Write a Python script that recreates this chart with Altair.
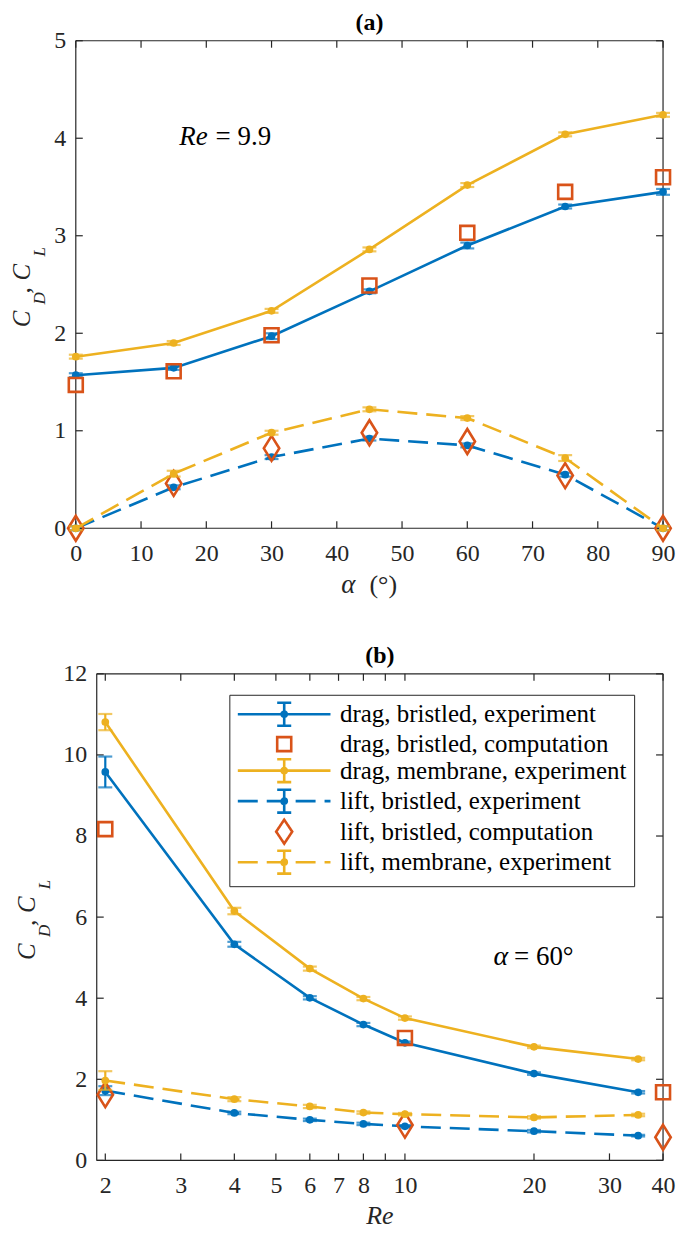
import altair as alt
import pandas as pd

# ---------------- colours / style ----------------
BLUE, ORANGE, YELLOW = "#0072BD", "#D95319", "#EDB120"
AXC = "#262626"
SERIF = "Liberation Serif, Times New Roman, serif"
DASH = [20, 9]

# ---------------- panel (a): Re = 9.9, sweep in alpha ----------------
alpha = [0, 15, 30, 45, 60, 75, 90]
a_drag_bristled_exp = [1.57, 1.645, 1.97, 2.43, 2.90, 3.30, 3.45]
a_drag_bristled_err = [0.02, 0.02, 0.03, 0.02, 0.03, 0.02, 0.03]
a_drag_bristled_comp = [1.47, 1.61, 1.98, 2.49, 3.03, 3.45, 3.60]
a_drag_membrane_exp = [1.76, 1.90, 2.23, 2.86, 3.52, 4.04, 4.24]
a_drag_membrane_err = [0.02, 0.02, 0.02, 0.02, 0.02, 0.02, 0.02]
a_lift_bristled_exp = [0.0, 0.42, 0.73, 0.92, 0.85, 0.55, 0.0]
a_lift_bristled_err = [0.02, 0.02, 0.02, 0.02, 0.02, 0.02, 0.02]
a_lift_bristled_comp = [0.0, 0.46, 0.82, 0.98, 0.89, 0.54, 0.0]
a_lift_membrane_exp = [0.0, 0.56, 0.98, 1.22, 1.13, 0.72, 0.0]
a_lift_membrane_err = [0.02, 0.03, 0.02, 0.02, 0.02, 0.03, 0.02]
a_xticks = [0, 10, 20, 30, 40, 50, 60, 70, 80, 90]
a_yticks = [0, 1, 2, 3, 4, 5]
a_annot = {"x": [20.2], "y": [3.93]}

# ---------------- panel (b): alpha = 60 deg, sweep in Re ----------------
re_exp = [2, 4, 6, 8, 10, 20, 35]
re_comp = [2, 10, 40]
b_drag_bristled_exp = [9.58, 5.33, 4.01, 3.35, 2.90, 2.14, 1.68]
b_drag_bristled_err = [0.38, 0.06, 0.04, 0.04, 0.03, 0.03, 0.03]
b_drag_bristled_comp = [8.17, 3.02, 1.68]
b_drag_membrane_exp = [10.81, 6.15, 4.73, 3.99, 3.51, 2.80, 2.50]
b_drag_membrane_err = [0.20, 0.08, 0.05, 0.04, 0.04, 0.03, 0.03]
b_lift_bristled_exp = [1.72, 1.17, 1.00, 0.90, 0.84, 0.72, 0.61]
b_lift_bristled_err = [0.11, 0.03, 0.03, 0.03, 0.03, 0.03, 0.02]
b_lift_bristled_comp = [1.62, 0.87, 0.57]
b_lift_membrane_exp = [1.97, 1.51, 1.33, 1.18, 1.14, 1.06, 1.12]
b_lift_membrane_err = [0.23, 0.05, 0.04, 0.03, 0.03, 0.03, 0.03]
b_xticks = [2, 3, 4, 5, 6, 7, 8, 9, 10, 20, 30, 40]
b_xlabels = [2, 3, 4, 5, 6, 7, 8, 10, 20, 30, 40]
b_yticks = [0, 2, 4, 6, 8, 10, 12]
b_annot = {"x": [17.4], "y": [4.83]}

legend_labels = [
    "drag, bristled, experiment",
    "drag, bristled, computation",
    "drag, membrane, experiment",
    "lift, bristled, experiment",
    "lift, bristled, computation",
    "lift, membrane, experiment",
]

# ---------------- geometry ----------------
A_W, A_H = 589, 489
B_W, B_H = 589, 488      # panel (b) group; its visible frame starts at B_X0
B_X0 = 21
B_DOMAIN = [1.707, 40]   # log domain over the whole group so that 1.91 sits at B_X0

DIAMOND = "M0,-1L0.62,0L0,1L-0.62,0Z"

# legend glyphs (1 unit = sqrt(symbolSize)/2 = 11 px)
P_LINE = "M-1,0H7.45"
P_ERR = "M3.23,0V-1.045M3.23,0V1.045M2.59,-1.045H3.87M2.59,1.045H3.87"
P_DOT = ("M3.47,0A0.24,0.24 0 1,1 2.99,0A0.24,0.24 0 1,1 3.47,0"
         "M3.30,0A0.07,0.07 0 1,1 3.16,0A0.07,0.07 0 1,1 3.30,0")
SYM_EXP = P_LINE + P_ERR + P_DOT
SYM_SQ = "M2.59,-0.64H3.87V0.64H2.59Z"
SYM_DI = "M3.23,-1.09L3.96,0L3.23,1.09L2.50,0Z"
legend_shapes = [SYM_EXP, SYM_SQ, SYM_EXP, SYM_EXP, SYM_DI, SYM_EXP]
legend_colors = [BLUE, ORANGE, YELLOW, BLUE, ORANGE, YELLOW]
legend_dashes = [[1, 0], [1, 0], [1, 0], DASH, [1, 0], DASH]


def make_xy(xscale, xaxis, yscale, yaxis):
    def X(f):
        return alt.X(f"{f}:Q", scale=xscale, axis=xaxis)

    def Y(f):
        return alt.Y(f"{f}:Q", scale=yscale, axis=yaxis)
    return X, Y


def exp_layers(x, y, err, color, dash, X, Y):
    lo = [round(v - e, 4) for v, e in zip(y, err)]
    hi = [round(v + e, 4) for v, e in zip(y, err)]
    df = pd.DataFrame({"x": x, "y": y, "lo": lo, "hi": hi})
    base = alt.Chart(df)
    kw = dict(color=color, strokeWidth=2.6)
    if dash:
        kw["strokeDash"] = dash
    return [
        base.mark_line(**kw).encode(x=X("x"), y=Y("y")),
        base.mark_rule(color=color, strokeWidth=2.2).encode(x=X("x"), y=Y("lo"), y2=alt.Y2("hi")),
        base.mark_tick(color=color, orient="horizontal", size=14, thickness=2.2).encode(x=X("x"), y=Y("lo")),
        base.mark_tick(color=color, orient="horizontal", size=14, thickness=2.2).encode(x=X("x"), y=Y("hi")),
        base.mark_circle(color=color, size=60, opacity=1).encode(x=X("x"), y=Y("y")),
    ]


def comp_layer(x, y, shape, size, X, Y):
    df = pd.DataFrame({"x": x, "y": y})
    return alt.Chart(df).mark_point(
        shape=shape, size=size, filled=False, color=ORANGE, strokeWidth=2.6, opacity=1
    ).encode(x=X("x"), y=Y("y"))


one = pd.DataFrame({"k": [0]})


def frame(xt, yt, X, Y, W, H, x0=0, L=7):
    dx = pd.DataFrame({"t": xt})
    dy = pd.DataFrame({"t": yt})
    s = dict(color=AXC, strokeWidth=1.2)
    box = alt.Chart(one)
    return [
        alt.Chart(dx).mark_rule(**s).encode(x=X("t"), y=alt.value(H), y2=alt.value(H - L)),
        alt.Chart(dx).mark_rule(**s).encode(x=X("t"), y=alt.value(0), y2=alt.value(L)),
        alt.Chart(dy).mark_rule(**s).encode(y=Y("t"), x=alt.value(x0), x2=alt.value(x0 + L)),
        alt.Chart(dy).mark_rule(**s).encode(y=Y("t"), x=alt.value(W - L), x2=alt.value(W)),
        box.mark_rule(**s).encode(x=alt.value(x0), x2=alt.value(W), y=alt.value(0)),
        box.mark_rule(**s).encode(x=alt.value(x0), x2=alt.value(W), y=alt.value(H)),
        box.mark_rule(**s).encode(x=alt.value(x0), y=alt.value(0), y2=alt.value(H)),
        box.mark_rule(**s).encode(x=alt.value(W), y=alt.value(0), y2=alt.value(H)),
    ]


def ytitle(H, base_dx, sub_dx):
    layers = []
    pieces = [("C", base_dx, 43, 25), ("D", sub_dx, 20, 17), (",", base_dx, 9, 25),
              ("C", base_dx, -4, 25), ("L", sub_dx, -28, 17)]
    for txt, px, off, fs in pieces:
        layers.append(
            alt.Chart(one).mark_text(
                text=txt, angle=270, align="left", baseline="alphabetic",
                font=SERIF, fontSize=fs, fontStyle="italic", color=AXC,
            ).encode(x=alt.value(px), y=alt.value(H / 2 + off))
        )
    return layers


def title_text(txt, cx):
    return alt.Chart(one).mark_text(
        text=txt, font=SERIF, fontSize=24, fontWeight="bold", color="black",
        align="center", baseline="alphabetic",
    ).encode(x=alt.value(cx), y=alt.value(-11))


# ================= panel (a) =================
XA, YA = make_xy(
    alt.Scale(domain=[0, 90], nice=False, zero=False),
    alt.Axis(values=a_xticks, title=None, labelPadding=13, format="d"),
    alt.Scale(domain=[0, 5], nice=False, zero=False),
    alt.Axis(values=a_yticks, title=None, labelPadding=10, format="d"),
)

la = []
la += frame(a_xticks, a_yticks, XA, YA, A_W, A_H)
la += exp_layers(alpha, a_drag_bristled_exp, a_drag_bristled_err, BLUE, None, XA, YA)
la.append(comp_layer(alpha, a_drag_bristled_comp, "square", 196, XA, YA))
la += exp_layers(alpha, a_drag_membrane_exp, a_drag_membrane_err, YELLOW, None, XA, YA)
la += exp_layers(alpha, a_lift_bristled_exp, a_lift_bristled_err, BLUE, DASH, XA, YA)
la.append(comp_layer(alpha, a_lift_bristled_comp, DIAMOND, 625, XA, YA))
la += exp_layers(alpha, a_lift_membrane_exp, a_lift_membrane_err, YELLOW, DASH, XA, YA)

ann_a = alt.Chart(pd.DataFrame(a_annot))
la.append(ann_a.mark_text(text="Re", font=SERIF, fontSize=27, fontStyle="italic", color="black",
                          align="right", baseline="alphabetic").encode(x=XA("x"), y=YA("y")))
la.append(ann_a.mark_text(text="= 9.9", font=SERIF, fontSize=27, color="black",
                          align="left", baseline="alphabetic", dx=8).encode(x=XA("x"), y=YA("y")))
la.append(alt.Chart(one).mark_text(text="α", font=SERIF, fontSize=27, fontStyle="italic", color=AXC,
                                   align="right", baseline="alphabetic")
          .encode(x=alt.value(A_W / 2 - 14), y=alt.value(A_H + 65)))
la.append(alt.Chart(one).mark_text(text="(°)", font=SERIF, fontSize=26, color=AXC,
                                   align="left", baseline="alphabetic")
          .encode(x=alt.value(A_W / 2), y=alt.value(A_H + 65)))
la += ytitle(A_H, -46, -31)
# invisible anchor fixing the left extent of the whole figure
la.append(alt.Chart(one).mark_rule(opacity=0).encode(x=alt.value(-67), y=alt.value(0), y2=alt.value(10)))
la.append(title_text("(a)", A_W / 2))

panel_a = alt.layer(*la).properties(width=A_W, height=A_H)

# ================= panel (b) =================
XB, YB = make_xy(
    alt.Scale(type="log", domain=B_DOMAIN, nice=False),
    alt.Axis(values=b_xlabels, title=None, labelPadding=13, format="d"),
    alt.Scale(domain=[0, 12], nice=False, zero=False),
    alt.Axis(values=b_yticks, title=None, labelPadding=10, format="d", offset=-B_X0),
)

lb = []
lb += frame(b_xticks, b_yticks, XB, YB, B_W, B_H, x0=B_X0)
lb += exp_layers(re_exp, b_drag_bristled_exp, b_drag_bristled_err, BLUE, None, XB, YB)
lb.append(comp_layer(re_comp, b_drag_bristled_comp, "square", 196, XB, YB))
lb += exp_layers(re_exp, b_drag_membrane_exp, b_drag_membrane_err, YELLOW, None, XB, YB)
lb += exp_layers(re_exp, b_lift_bristled_exp, b_lift_bristled_err, BLUE, DASH, XB, YB)
lb.append(comp_layer(re_comp, b_lift_bristled_comp, DIAMOND, 625, XB, YB))
lb += exp_layers(re_exp, b_lift_membrane_exp, b_lift_membrane_err, YELLOW, DASH, XB, YB)

ann_b = alt.Chart(pd.DataFrame(b_annot))
lb.append(ann_b.mark_text(text="α", font=SERIF, fontSize=28, fontStyle="italic", color="black",
                          align="right", baseline="alphabetic").encode(x=XB("x"), y=YB("y")))
lb.append(ann_b.mark_text(text="= 60°", font=SERIF, fontSize=27, color="black",
                          align="left", baseline="alphabetic", dx=6).encode(x=XB("x"), y=YB("y")))
lb.append(alt.Chart(one).mark_text(text="Re", font=SERIF, fontSize=26, fontStyle="italic", color=AXC,
                                   align="center", baseline="alphabetic")
          .encode(x=alt.value((B_X0 + B_W) / 2), y=alt.value(B_H + 64)))
lb += ytitle(B_H, B_X0 - 62, B_X0 - 47)
lb.append(title_text("(b)", (B_X0 + B_W) / 2))

LEG = alt.Legend(
    title=None, orient="none", legendX=154, legendY=21,
    symbolSize=484, symbolStrokeWidth=2.6,
    labelFont=SERIF, labelFontSize=25, labelColor="black", labelOffset=79, labelLimit=600,
    rowPadding=-4.4, padding=7, strokeColor=AXC, fillColor="white", cornerRadius=0,
)
leg_df = pd.DataFrame({"series": legend_labels})
lb.append(
    alt.Chart(leg_df).mark_point(opacity=0, filled=False, strokeWidth=2.6).encode(
        color=alt.Color("series:N", scale=alt.Scale(domain=legend_labels, range=legend_colors), legend=LEG),
        shape=alt.Shape("series:N", scale=alt.Scale(domain=legend_labels, range=legend_shapes), legend=LEG),
        strokeDash=alt.StrokeDash("series:N", scale=alt.Scale(domain=legend_labels, range=legend_dashes),
                                  legend=LEG),
    )
)

panel_b = alt.layer(*lb).properties(width=B_W, height=B_H)

chart = (
    alt.vconcat(panel_a, panel_b, spacing=44,
                padding={"left": 0, "top": 0, "right": 0, "bottom": 0})
    .resolve_scale(color="independent", shape="independent", strokeDash="independent")
    .resolve_legend(color="independent", shape="independent", strokeDash="independent")
    .configure_view(stroke="transparent")
    .configure_axis(grid=False, domain=False, ticks=False, tickSize=0,
                    labelFont=SERIF, labelFontSize=24, labelColor=AXC,
                    labelFlush=False, labelOverlap=False, labelBound=False)
)

chart.save("out.html", embed_options={"renderer": "svg", "actions": False})
